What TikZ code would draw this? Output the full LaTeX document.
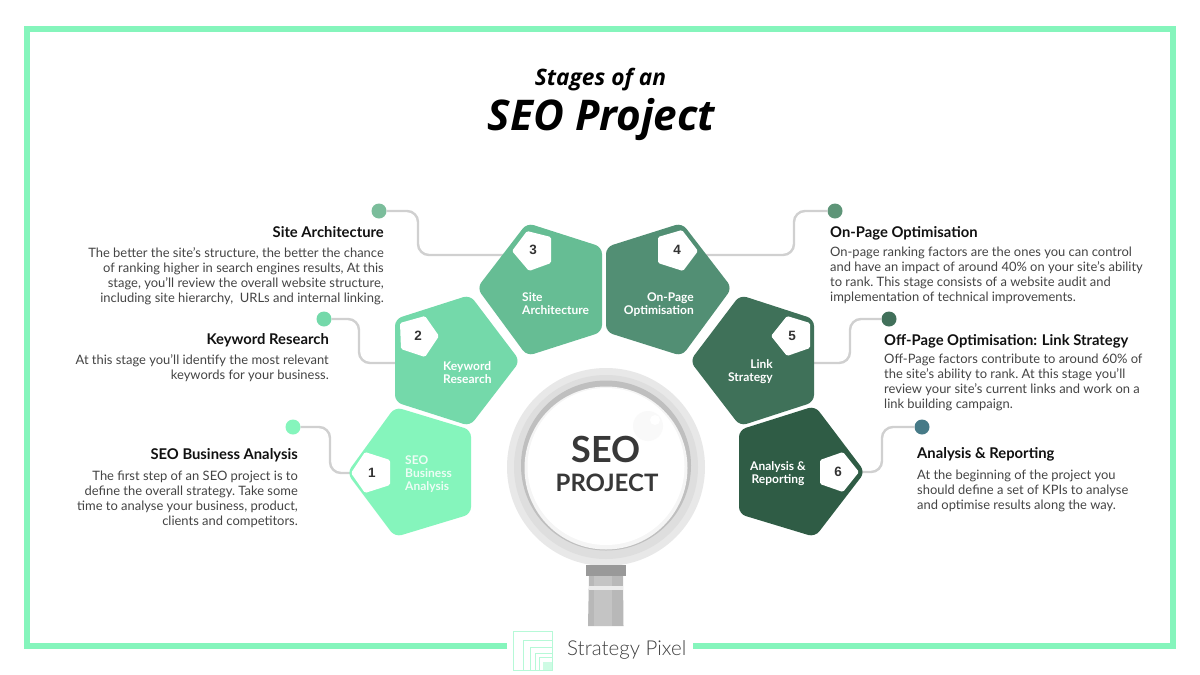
\documentclass[tikz,border=0pt]{standalone}
\usepackage{fontspec}
\setmainfont{Lato}
\newfontfamily\numfont{Liberation Sans}
\newfontfamily\titlefont{Open Sans}
\newfontfamily\lightfont{Lato Light}
\definecolor{c1}{HTML}{85F5BC}
\definecolor{c2}{HTML}{74D9AA}
\definecolor{c3}{HTML}{66BD94}
\definecolor{c4}{HTML}{528F74}
\definecolor{c5}{HTML}{3F7159}
\definecolor{c6}{HTML}{2F5C45}
\definecolor{d3}{HTML}{7BBD9B}
\definecolor{d4}{HTML}{5E9578}
\definecolor{d5}{HTML}{41705A}
\definecolor{d6}{HTML}{467A87}
\definecolor{ink}{HTML}{111111}
\definecolor{body}{HTML}{444444}
\definecolor{link}{HTML}{D0D0D0}
\tikzset{
 x=1pt,y=-1pt,
 penta/.style={rounded corners=7pt},
 badge/.style={fill=white,rounded corners=1.5pt},
 link line/.style={draw=link,line width=2.4pt,rounded corners=11pt},
 dot/.style={circle,minimum size=15pt,inner sep=0pt},
 head/.style={font=\fontsize{14.8}{16}\selectfont\bfseries,text=ink,inner sep=0pt},
 para/.style={font=\fontsize{12.95}{15}\selectfont\frenchspacing,text=body,inner sep=0pt},
 lab/.style={font=\fontsize{12}{13}\selectfont\bfseries,text=white,inner sep=0pt},
 num/.style={font=\fontsize{13.5}{15}\numfont\bfseries,text=black!80,inner sep=0pt},
 frame line/.style={draw=c1,line width=6pt},
}
\begin{document}
\begin{tikzpicture}
\useasboundingbox (0,0) rectangle (1200,675);
\fill[white] (0,0) rectangle (1200,675);
% frame
\draw[frame line] (507,646) -- (27,646) -- (27,29) -- (1173,29) -- (1173,646) -- (693,646);
% title
\node[inner sep=0pt,anchor=base,font=\fontsize{22.7}{24}\titlefont\bfseries\itshape,text=black] (t1) at (600.5,85) {Stages of an};
\node[inner sep=0pt,anchor=base,font=\fontsize{42.3}{46}\titlefont\bfseries\itshape,text=black] (t2) at (601.5,130) {SEO Project};
% dots
\node[dot,fill=c1] (d1) at (293,427) {};
\node[dot,fill=c2] (d2) at (324,319) {};
\node[dot,fill=d3] (d3) at (379,211) {};
\node[dot,fill=d4] (d4) at (835,211) {};
\node[dot,fill=d5] (d5) at (889,319) {};
\node[dot,fill=d6] (d6) at (922,427) {};
% connector ends
\coordinate (e1) at (350,473);
\coordinate (e2) at (400,363);
\coordinate (e3) at (505,255);
\coordinate (e4) at (705,255);
\coordinate (e5) at (810,363);
\coordinate (e6) at (858,472);
\draw[link line] (d1) -- (330,427) -- (330,473) -- (e1);
\draw[link line] (d2) -- (359,319) -- (359,363) -- (e2);
\draw[link line] (d3) -- (418,211) -- (418,255) -- (e3);
\draw[link line] (d4) -- (794,211) -- (794,255) -- (e4);
\draw[link line] (d5) -- (850,319) -- (850,363) -- (e5);
\draw[link line] (d6) -- (882,427) -- (882,472) -- (e6);
% pentagons
\fill[c1,penta] (347,473) -- (395,407) -- (471,430) -- (471,514) -- (395,537) -- cycle;
\fill[c2,penta] (395,319) -- (470,295) -- (520,361) -- (470,426) -- (395,402) -- cycle;
\fill[c3,penta] (477,288) -- (527,223) -- (602,247) -- (602,332) -- (527,356) -- cycle;
\fill[c4,penta] (732,288) -- (682,223) -- (606,247) -- (606,332) -- (682,356) -- cycle;
\fill[c5,penta] (814,319) -- (740,295) -- (690,361) -- (740,426) -- (814,402) -- cycle;
\fill[c6,penta] (865,472) -- (815,406) -- (739,430) -- (739,514) -- (815,537) -- cycle;
% badges
\fill[badge] (351,473) -- (365,452) -- (390,460) -- (390,485) -- (365,493) -- cycle;
\fill[badge] (400,323) -- (425,316) -- (439,336) -- (425,357) -- (401,349) -- cycle;
\fill[badge] (512,251) -- (527,231) -- (551,237) -- (551,263) -- (529,271) -- cycle;
\fill[badge] (658,237) -- (682,230) -- (698,251) -- (683,271) -- (658,263) -- cycle;
\fill[badge] (771,336) -- (787,316) -- (810,323) -- (810,348) -- (787,356) -- cycle;
\fill[badge] (820,460) -- (843,452) -- (859,472) -- (843,492) -- (820,484) -- cycle;
\node[num] (n1) at (372,473) {1};
\node[num] (n2) at (418,336) {2};
\node[num] (n3) at (533,250) {3};
\node[num] (n4) at (677,250) {4};
\node[num] (n5) at (792,336) {5};
\node[num] (n6) at (838,472) {6};
% pentagon labels
\node[lab,anchor=north west,align=left,text=white!85!c1] (l1) at (405,455.5) {SEO\\Business\\Analysis};
\node[lab,anchor=north west,align=left] (l2) at (443,361.5) {Keyword\\Research};
\node[lab,anchor=north west,align=left] (l3) at (522,292.5) {Site\\Architecture};
\node[lab,anchor=north east,align=right] (l4) at (694,292.5) {On-Page\\Optimisation};
\node[lab,anchor=north east,align=right] (l5) at (773,359.5) {Link\\Strategy};
\node[lab,anchor=north,align=center] (l6) at (778,461.5) {Analysis \&\\Reporting};
% magnifier
\fill[black!9] (606,467) circle (99);
\fill[black!13] (606,467) circle (92);
\fill[black!25] (606,465.5) circle (85);
\fill[black!4] (606,468) circle (81.5);
\fill[white] (606,466.5) circle (78.5);
\fill[black!2.5] (648,426) circle (15);
\fill[white] (655,420) circle (5);
\fill[black!40] (586,565) rectangle (626,576);
\fill[black!28] (589,576) -- (623,576) -- (623.5,626) -- (588,626) -- cycle;
\fill[black!23] (594,576) rectangle (612,626);
\fill[black!8] (589,586) rectangle (623,590);
\node[inner sep=0pt,font=\fontsize{36}{40}\selectfont\bfseries,text=black!78] (s1) at (606,449) {SEO};
\node[inner sep=0pt,font=\fontsize{24}{26}\selectfont\bfseries,text=black!78] (s2) at (607,483) {PROJECT};
% left texts
\node[head,anchor=base east] (h3) at (384,237) {Site Architecture};
\node[para,anchor=north east,align=right] (p3) at (384,247) {The better the site's structure, the better the chance\\of ranking higher in search engines results, At this\\stage, you'll review the overall website structure,\\including site hierarchy,\ \ URLs and internal linking.};
\node[head,anchor=base east] (h2) at (329,344) {Keyword Research};
\node[para,anchor=north east,align=right] (p2) at (329,354.5) {At this stage you'll identify the most relevant\\keywords for your business.};
\node[head,anchor=base east] (h1) at (298,459) {SEO Business Analysis};
\node[para,anchor=north east,align=right] (p1) at (298,471) {The first step of an SEO project is to\\define the overall strategy. Take some\\time to analyse your business, product,\\clients and competitors.};
% right texts
\node[head,anchor=base west] (h4) at (830,237) {On-Page Optimisation};
\node[para,anchor=north west,align=left] (p4) at (830,247) {On-page ranking factors are the ones you can control\\and have an impact of around 40\% on your site's ability\\to rank. This stage consists of a website audit and\\implementation of technical improvements.};
\node[head,anchor=base west] (h5) at (884,345) {Off-Page Optimisation: Link Strategy};
\node[para,anchor=north west,align=left] (p5) at (884,353.5) {Off-Page factors contribute to around 60\% of\\the site's ability to rank. At this stage you'll\\review your site's current links and work on a\\link building campaign.};
\node[head,anchor=base west] (h6) at (917,458) {Analysis \& Reporting};
\node[para,anchor=north west,align=left] (p6) at (917,470) {At the beginning of the project you\\should define a set of KPIs to analyse\\and optimise results along the way.};
% logo
\draw[c1!60,line width=0.8pt] (513,631) rectangle (552,670);
\draw[c1!60,line width=0.8pt] (523,670) -- (523,640) -- (552,640);
\draw[c1!60,line width=0.8pt] (530,670) -- (530,647) -- (552,647);
\draw[c1!60,line width=0.8pt] (535,670) -- (535,653) -- (552,653);
\draw[c1!60,line width=0.8pt] (539,670) -- (539,657) -- (552,657);
\fill[c1!40] (543,662) rectangle (552,670);
\node[inner sep=0pt,anchor=base west,font=\fontsize{20.5}{24}\lightfont,text=black!75] (logo) at (567,655) {Strategy Pixel};
\end{tikzpicture}
\end{document}
